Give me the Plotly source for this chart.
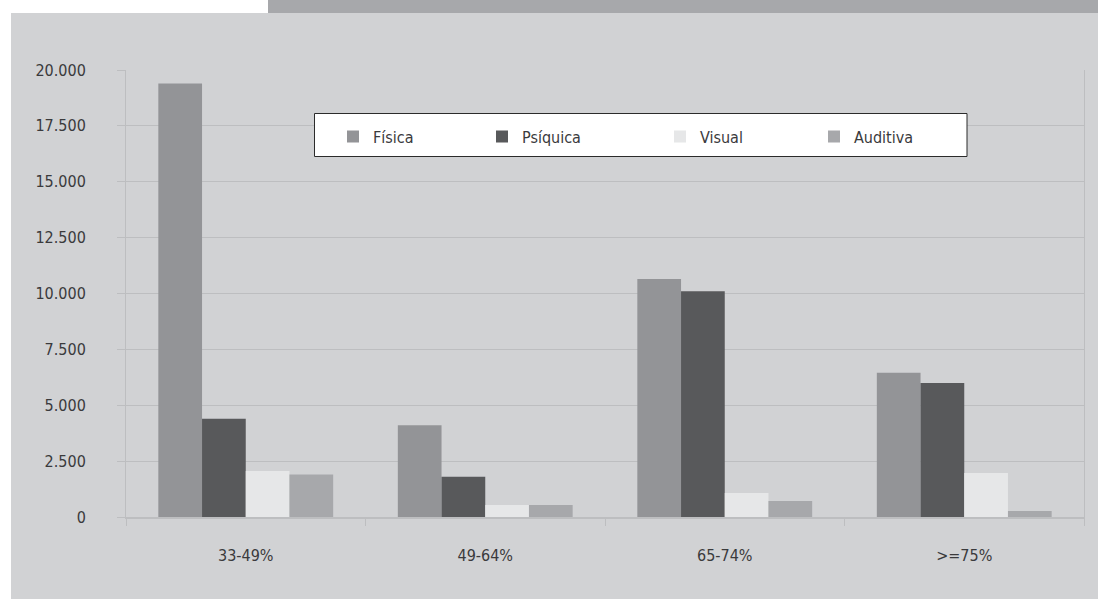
import plotly.graph_objects as go

categories = ["33-49%", "49-64%", "65-74%", ">=75%"]
series_names = ["Física", "Psíquica", "Visual", "Auditiva"]
fisica = [19400, 4100, 10650, 6450]
psiquica = [4400, 1800, 10100, 6000]
visual = [2060, 540, 1070, 1970]
auditiva = [1900, 540, 720, 270]
series_values = [fisica, psiquica, visual, auditiva]
colors = ["#939497", "#58595b", "#e6e7e8", "#a7a8ab"]

y_tickvals = [0, 2500, 5000, 7500, 10000, 12500, 15000, 17500, 20000]
y_ticktext = ["0", "2.500", "5.000", "7.500", "10.000", "12.500", "15.000", "17.500", "20.000"]
x_ticktext = ["33-49%", "49-64%", "65-74%", ">=75%"]

FONT = "Liberation Sans Narrow, DejaVu Sans Condensed, Arial Narrow, sans-serif"
TXT = "#3a3a3c"
GRID = "#bdbec0"
BG = "#d1d2d4"

W, H = 1098, 599
L, R, T, B = 126, 14, 70, 82
PW, PH = W - L - R, H - T - B


def px_x(p):
    return (p - L) / PW


def px_y(p):
    return (H - B - p) / PH


fig = go.Figure()
legend_ids = ["legend", "legend2", "legend3", "legend4"]
swatch_centers = [353, 502, 680, 834]
for name, vals, col, lid in zip(series_names, series_values, colors, legend_ids):
    fig.add_trace(go.Bar(name=name, x=categories, y=vals, marker_color=col,
                         marker_line_width=0, legend=lid))

legend_common = dict(orientation="h", bgcolor="rgba(0,0,0,0)", borderwidth=0,
                     font=dict(family=FONT, size=16, color=TXT),
                     xanchor="left", yanchor="middle", y=px_y(136.5))
legend_layouts = {}
for lid, cx in zip(legend_ids, swatch_centers):
    legend_layouts[lid] = dict(legend_common, x=px_x(cx - 20))

fig.update_layout(
    width=W, height=H,
    margin=dict(l=L, r=R, t=T, b=B, pad=0),
    paper_bgcolor="white",
    plot_bgcolor=BG,
    barmode="group", bargap=0.27, bargroupgap=0,
    font=dict(family=FONT, size=16, color=TXT),
    showlegend=True,
    **legend_layouts,
    xaxis=dict(
        type="category", tickvals=categories, ticktext=x_ticktext,
        tickson="boundaries", ticks="outside", ticklen=7, tickcolor=GRID, tickwidth=1,
        showgrid=False, showline=True, linecolor=GRID, linewidth=2,
        ticklabelstandoff=23, tickfont=dict(family=FONT, size=16, color=TXT),
    ),
    yaxis=dict(
        range=[0, 20000], tickvals=y_tickvals, ticktext=y_ticktext,
        ticks="outside", ticklen=8, tickcolor=GRID, tickwidth=1,
        showgrid=True, gridcolor=GRID, gridwidth=1, zeroline=False,
        showline=True, linecolor=GRID, linewidth=1, mirror=True,
        ticklabelstandoff=28, tickfont=dict(family=FONT, size=16, color=TXT),
    ),
    shapes=[
        dict(type="rect", xref="paper", yref="paper", layer="below",
             x0=px_x(11), x1=px_x(W + 5), y0=px_y(13), y1=px_y(H + 5),
             fillcolor=BG, line_width=0),
        dict(type="rect", xref="paper", yref="paper", layer="below",
             x0=px_x(268), x1=px_x(W + 5), y0=px_y(-5), y1=px_y(13),
             fillcolor="#a7a8ab", line_width=0),
        dict(type="rect", xref="paper", yref="paper", layer="above",
             x0=px_x(314.5), x1=px_x(967), y0=px_y(113.5), y1=px_y(156.5),
             fillcolor="white", line=dict(color="#2b2b2b", width=1)),
    ],
)

fig.write_html("out.html",
               config={"displayModeBar": False},
               post_script="document.body.style.margin='0';document.body.style.padding='0';document.body.style.overflow='hidden';")
